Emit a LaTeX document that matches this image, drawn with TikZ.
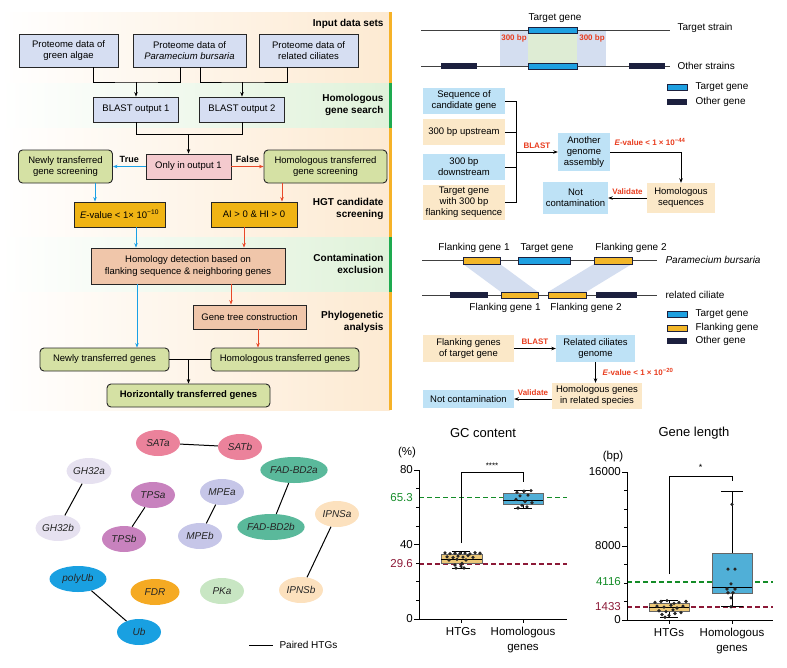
\documentclass[tikz,border=0pt]{standalone}
\usepackage{fontspec}
\setmainfont{Liberation Sans}
\usetikzlibrary{arrows.meta,positioning,shapes.geometric}
\definecolor{protblue}{RGB}{214,222,242}
\definecolor{scrgreen}{RGB}{213,225,164}
\definecolor{onlypink}{RGB}{244,202,206}
\definecolor{cutorange}{RGB}{240,180,20}
\definecolor{salmon}{RGB}{240,198,170}
\definecolor{arrblue}{RGB}{25,160,230}
\definecolor{arrred}{RGB}{232,72,40}
\definecolor{bandpeach}{RGB}{253,234,210}
\definecolor{bandgreen}{RGB}{224,242,218}
\definecolor{barorange}{RGB}{246,178,40}
\definecolor{bargreen}{RGB}{30,170,80}
\definecolor{skyfill}{RGB}{190,226,246}
\definecolor{creamfill}{RGB}{251,232,200}
\definecolor{genedark}{RGB}{28,32,62}
\definecolor{geneblue}{RGB}{30,160,225}
\definecolor{geneyellow}{RGB}{242,182,40}
\definecolor{shadeblue}{RGB}{212,222,240}
\definecolor{shadegreen}{RGB}{222,236,212}
\definecolor{labred}{RGB}{232,60,30}
\definecolor{lineGreen}{RGB}{20,140,40}
\definecolor{lineRed}{RGB}{140,25,55}
\definecolor{htgfill}{RGB}{236,200,120}
\definecolor{homfill}{RGB}{80,175,215}
\definecolor{satcol}{RGB}{235,130,155}
\definecolor{ghcol}{RGB}{230,225,240}
\definecolor{tpscol}{RGB}{200,130,190}
\definecolor{mpecol}{RGB}{198,198,232}
\definecolor{fadcol}{RGB}{90,185,155}
\definecolor{ipnscol}{RGB}{252,225,190}
\definecolor{ubcol}{RGB}{25,160,225}
\definecolor{fdrcol}{RGB}{245,170,35}
\definecolor{pkacol}{RGB}{200,230,195}

\begin{document}
\begin{tikzpicture}[x=1pt,y=-1pt,
  fbase/.style={draw=black!85,line width=0.9pt,align=center,inner sep=1pt,
                font=\fontsize{9.5}{11.5}\selectfont},
  prot/.style={fbase,fill=protblue},
  scr/.style={fbase,fill=scrgreen,rounded corners=4pt},
  cutbox/.style={fbase,fill=cutorange},
  exc/.style={fbase,fill=salmon},
  stage/.style={font=\bfseries\fontsize{10}{12.5}\selectfont,align=right,anchor=east},
  arr/.style={-{Stealth[length=4.5pt,width=3.5pt]},line width=0.7pt},
  carr/.style={arr,line width=1pt},
  tcap/.style={font=\bfseries\fontsize{8}{9}\selectfont,text=labred},
  pane/.style={align=center,inner sep=1pt,font=\fontsize{9.5}{11}\selectfont},
  sky/.style={pane,fill=skyfill},
  cream/.style={pane,fill=creamfill},
  gname/.style={font=\fontsize{10}{12}\selectfont},
  pair/.style={ellipse,minimum width=44pt,minimum height=26pt,inner sep=0pt,
               text=black!85,font=\itshape\fontsize{10}{11}\selectfont},
  axlab/.style={font=\fontsize{11.5}{14.5}\selectfont,align=center},
  ticklab/.style={font=\fontsize{11.5}{13}\selectfont,inner sep=1pt},
  refline/.style={line width=1.5pt,dash pattern=on 5pt off 3pt},
  dot/.style={fill=black!85},
  ]
\useasboundingbox (0,0) rectangle (787,667);
\shade[left color=white,right color=bandpeach] (0,12) rectangle (390,83);
\shade[left color=white,right color=bandgreen] (0,83) rectangle (390,128);
\shade[left color=white,right color=bandpeach] (0,128) rectangle (390,237);
\shade[left color=white,right color=bandgreen] (0,237) rectangle (390,292);
\shade[left color=white,right color=bandpeach] (0,292) rectangle (390,410);
\fill[barorange] (389,12) rectangle (391.5,410);
\fill[bargreen] (389,83) rectangle (391.5,128);
\fill[bargreen] (389,237) rectangle (391.5,292);

\node[stage] (st1) at (387,23.5) {Input data sets};
\node[stage] (st2) at (387,105) {Homologous\\gene search};
\node[stage] (st3) at (387,209) {HGT candidate\\screening};
\node[stage] (st4) at (387,264) {Contamination\\exclusion};
\node[stage] (st5) at (387,322) {Phylogenetic\\analysis};

\node[prot,minimum width=99pt,minimum height=33pt] (ga) at (68.5,50.5) {Proteome data of\\green algae};
\node[prot,minimum width=113pt,minimum height=33pt] (pb) at (189.5,50.5) {Proteome data of\\\textit{Paramecium bursaria}};
\node[prot,minimum width=99pt,minimum height=33pt] (rc) at (308.5,50.5) {Proteome data of\\related ciliates};
\node[prot,minimum width=85pt,minimum height=25pt] (bo1) at (136,109.5) {BLAST output 1};
\node[prot,minimum width=85pt,minimum height=25pt] (bo2) at (242,109.5) {BLAST output 2};
\coordinate (m1) at (136,82);
\coordinate (m2) at (242,82);
\draw[line width=0.8pt] ([xshift=24.5pt]ga.south) |- (m1) -| ([xshift=-9.5pt]pb.south);
\draw[arr] (m1) -- (bo1.north);
\draw[line width=0.8pt] ([xshift=10.5pt]pb.south) |- (m2) -| ([xshift=-21.5pt]rc.south);
\draw[arr] (m2) -- (bo2.north);

\node[fbase,fill=onlypink,minimum width=85pt,minimum height=25pt] (oo) at (188.5,166.5) {Only in output 1};
\coordinate (m3) at (188.5,134.5);
\draw[line width=0.8pt] (bo1.south) |- (m3) -| (bo2.south);
\draw[arr] (m3) -- (oo.north);
\node[scr,minimum width=94pt,minimum height=33pt] (ns) at (65.5,166.5) {Newly transferred\\gene screening};
\node[scr,minimum width=123pt,minimum height=33pt] (hs) at (325.5,166.5) {Homologous transferred\\gene screening};
\draw[carr,arrblue] (oo.west) -- node[above,text=black,font=\bfseries\fontsize{9}{10}\selectfont] (tru) {True} (ns.east);
\draw[carr,arrred] (oo.east) -- node[above,text=black,font=\bfseries\fontsize{9}{10}\selectfont] (fal) {False} (hs.west);

\node[cutbox,minimum width=91pt,minimum height=25pt] (ev) at (119.5,214.5) {\textit{E}-value < 1× 10\textsuperscript{−10}};
\node[cutbox,minimum width=86pt,minimum height=25pt] (ai) at (254,214.5) {AI > 0 \& HI > 0};
\draw[carr,arrblue] ([xshift=29.5pt]ns.south) -- ([xshift=29.5pt]ns.south |- ev.north);
\draw[carr,arrred] ([xshift=-43.5pt]hs.south) -- ([xshift=-43.5pt]hs.south |- ai.north);

\node[exc,minimum width=194pt,minimum height=36pt] (hd) at (188,266) {Homology detection based on\\flanking sequence \& neighboring genes};
\draw[carr,arrblue] ([xshift=16.5pt]ev.south) -- ([xshift=16.5pt]ev.south |- hd.north);
\draw[carr,arrred] ([xshift=-10pt]ai.south) -- ([xshift=-10pt]ai.south |- hd.north);
\node[exc,minimum width=113pt,minimum height=24pt] (gt) at (249.5,317) {Gene tree construction};
\draw[carr,arrred] ([xshift=43pt]hd.south) -- ([xshift=43pt]hd.south |- gt.north);
\node[scr,minimum width=129pt,minimum height=23pt] (nt) at (104.5,359.5) {Newly transferred genes};
\node[scr,minimum width=148pt,minimum height=23pt] (ht) at (285,359.5) {Homologous transferred genes};
\draw[carr,arrblue] ([xshift=-51pt]hd.south) -- ([xshift=-51pt]hd.south |- nt.north);
\draw[carr,arrred] ([xshift=8.5pt]gt.south) -- ([xshift=8.5pt]gt.south |- ht.north);
\node[scr,minimum width=163pt,minimum height=23pt,font=\bfseries\fontsize{9.5}{11.5}\selectfont] (hz) at (188.5,395.5) {Horizontally transferred genes};
\draw[line width=0.8pt] (nt.east) -- (ht.west);
\draw[arr] (nt.east -| hz.north) -- (hz.north);

\fill[shadeblue] (500,30) rectangle (606,66);
\fill[shadegreen] (528,30) rectangle (577,66);
\draw[line width=0.8pt,black!75] (421,30) -- (670,30);
\draw[line width=0.8pt,black!75] (421,66) -- (670,66);
\filldraw[fill=geneblue,draw=genedark,line width=0.5pt] (528,27) rectangle (577,33);
\filldraw[fill=geneblue,draw=genedark,line width=0.5pt] (528,63) rectangle (577,69);
\fill[genedark] (441,63) rectangle (477,69);
\fill[genedark] (629,63) rectangle (665,69);
\node[gname] (tgl) at (555,18) {Target gene};
\node[tcap] (bp1) at (514,38) {300 bp};
\node[tcap] (bp2) at (592,38) {300 bp};
\node[gname,anchor=west] (ts) at (674,28) {Target strain};
\node[gname,anchor=west] (os) at (674,66) {Other strains};
\filldraw[fill=geneblue,draw=genedark,line width=0.5pt] (667,84) rectangle (687,90);
\fill[genedark] (667,99) rectangle (687,105);
\node[gname,anchor=west] (lg1) at (692,87) {Target gene};
\node[gname,anchor=west] (lg2) at (692,102) {Other gene};

\node[sky,minimum width=82pt,minimum height=26pt] (sq) at (464,101) {Sequence of\\candidate gene};
\node[cream,minimum width=82pt,minimum height=26pt] (up) at (464,132) {300 bp upstream};
\node[sky,minimum width=82pt,minimum height=26pt] (dn) at (464,167) {300 bp\\downstream};
\node[cream,minimum width=82pt,minimum height=35pt] (tf) at (464,202.5) {Target gene\\with 300 bp\\flanking sequence};
\coordinate (bj) at (516,152);
\foreach \b in {sq,up,dn,tf} \draw[line width=0.8pt] (\b.east) -- (\b.east -| bj);
\draw[line width=0.8pt] (sq.east -| bj) -- (tf.east -| bj);
\node[sky,minimum width=52pt,minimum height=38pt] (ag) at (584,152) {Another\\genome\\assembly};
\draw[arr] (bj) -- node[above,tcap] (bl1) {BLAST} (ag.west);
\node[cream,minimum width=68pt,minimum height=30pt] (hsq) at (681,198) {Homologous\\sequences};
\draw[arr] (ag.east) -| (hsq.north);
\node[tcap,anchor=west] (ev1) at (611,142) {\textit{E}-value < 1 × 10\textsuperscript{−44}};
\node[sky,minimum width=65pt,minimum height=32pt] (nc1) at (575.5,198) {Not\\contamination};
\draw[arr] (hsq.west) -- node[above,tcap] (va1) {Validate} (nc1.east);

\fill[shadeblue] (463,264) -- (500,264) -- (538,292) -- (501,292) -- cycle;
\fill[shadeblue] (594,264) -- (632,264) -- (586,292) -- (548,292) -- cycle;
\draw[line width=0.8pt,black!75] (422,260.5) -- (657,260.5);
\draw[line width=0.8pt,black!75] (422,295) -- (657,295);
\filldraw[fill=geneyellow,draw=genedark,line width=0.5pt] (463,257) rectangle (500,264);
\filldraw[fill=geneblue,draw=genedark,line width=0.5pt] (518,257) rectangle (570,264);
\filldraw[fill=geneyellow,draw=genedark,line width=0.5pt] (594,257) rectangle (632,264);
\fill[genedark] (450,292) rectangle (488,298);
\filldraw[fill=geneyellow,draw=genedark,line width=0.5pt] (501,292) rectangle (538,298);
\filldraw[fill=geneyellow,draw=genedark,line width=0.5pt] (548,292) rectangle (586,298);
\fill[genedark] (596,292) rectangle (637,298);
\node[gname] (fa1) at (474,248) {Flanking gene 1};
\node[gname] (tga) at (547,248) {Target gene};
\node[gname] (fa2) at (631,248) {Flanking gene 2};
\node[gname,anchor=west,font=\itshape\fontsize{10}{12}\selectfont] (pbl) at (662,260) {Paramecium bursaria};
\node[gname,anchor=west] (rcl) at (662,295) {related ciliate};
\node[gname] (fb1) at (505,308) {Flanking gene 1};
\node[gname] (fb2) at (586,308) {Flanking gene 2};
\filldraw[fill=geneblue,draw=genedark,line width=0.5pt] (667,311) rectangle (687,317);
\filldraw[fill=geneyellow,draw=genedark,line width=0.5pt] (667,325) rectangle (687,331);
\fill[genedark] (667,338) rectangle (687,344);
\node[gname,anchor=west] (lg3) at (692,314) {Target gene};
\node[gname,anchor=west] (lg4) at (692,328) {Flanking gene};
\node[gname,anchor=west] (lg5) at (692,341) {Other gene};

\node[cream,minimum width=91pt,minimum height=27pt] (fg) at (468.5,348.5) {Flanking genes\\of target gene};
\node[sky,minimum width=79pt,minimum height=27pt] (rg) at (595.5,348.5) {Related ciliates\\genome};
\draw[arr] (fg.east) -- node[above,tcap] (bl2) {BLAST} (rg.west);
\node[cream,minimum width=90pt,minimum height=26pt] (hg) at (597,396) {Homologous genes\\in related species};
\draw[arr] (rg.south) -- (rg.south |- hg.north);
\node[tcap,anchor=west] (ev2) at (599,372) {\textit{E}-value < 1 × 10\textsuperscript{−20}};
\node[sky,minimum width=91pt,minimum height=18pt] (nc2) at (468.5,399) {Not contamination};
\draw[arr] (hg.west |- nc2) -- node[above,tcap] (va2) {Validate} (nc2.east);

\node[pair,fill=satcol] (sa) at (158,443) {SATa};
\node[pair,fill=satcol] (sb) at (240,447) {SATb};
\node[pair,fill=ghcol] (gha) at (89,471) {GH32a};
\node[pair,fill=ghcol] (ghb) at (58,528) {GH32b};
\node[pair,fill=tpscol] (ta) at (153,495) {TPSa};
\node[pair,fill=tpscol] (tb) at (124,539) {TPSb};
\node[pair,fill=mpecol] (ma) at (222,492) {MPEa};
\node[pair,fill=mpecol] (mb) at (200,536) {MPEb};
\node[pair,fill=fadcol,minimum width=52pt] (fa) at (294,470) {FAD-BD2a};
\node[pair,fill=fadcol,minimum width=60pt] (fb) at (271,527) {FAD-BD2b};
\node[pair,fill=ipnscol] (ia) at (337,514) {IPNSa};
\node[pair,fill=ipnscol] (ib) at (301,590) {IPNSb};
\node[pair,fill=ubcol,minimum width=57pt] (pu) at (78,579) {polyUb};
\node[pair,fill=ubcol] (ub) at (139,632) {Ub};
\node[pair,fill=fdrcol,minimum width=49pt] (fd) at (155,592) {FDR};
\node[pair,fill=pkacol] (pk) at (222,591) {PKa};
\foreach \p/\q in {sa/sb,gha/ghb,ta/tb,ma/mb,fa/fb,ia/ib,pu/ub}
  \draw[line width=1pt] (\p) -- (\q);
\coordinate (pl) at (249,645);
\node[anchor=west,font=\fontsize{10}{12}\selectfont] (plt) at (276,645) {Paired HTGs};
\draw[line width=1pt] (pl) -- ([xshift=-3pt]plt.west);

\node[font=\fontsize{13}{15}\selectfont] (gct) at (483,433) {GC content};
\node[ticklab] (gcu) at (407,453) {(\%)};
\begin{scope}[shift={(419,619)},y=1.8625pt]
  \draw[refline,lineGreen] (0,65.3) -- (148,65.3);
  \draw[refline,lineRed] (0,29.6) -- (148,29.6);
  \draw[line width=0.7pt] (42,27.4) -- (42,36.5) (33,27.4) -- (51,27.4) (33,36.5) -- (51,36.5);
  \filldraw[fill=htgfill,draw=black!60,line width=0.6pt] (22,30.1) rectangle (63,34.9);
  \draw[line width=0.7pt] (22,32.2) -- (63,32.2);
  \draw[line width=0.7pt] (104,59.6) -- (104,69.3) (95,59.6) -- (113,59.6) (95,69.3) -- (113,69.3);
  \filldraw[fill=homfill,draw=black!60,line width=0.6pt] (84,61.7) rectangle (124,67.6);
  \draw[line width=0.7pt] (84,63.5) -- (124,63.5);
  \foreach \px/\py in {26/35.5,31/35.1,36/35.3,41/35.2,46/35.4,51/35.0,56/35.6,61/35.3,
      28/33.4,34/33.0,39/33.8,44/33.2,49/34.0,54/33.1,30/31.6,38/32.0,47/31.7,
      36/29.0,42/28.4,45/27.4,37/27.3,43/29.8,
      98/68.0,105/68.6,112/68.9,101/66.1,109/66.5,97/64.2,106/63.1,113/62.4,
      103/61.0,99/59.6,108/60.2}
    \fill[dot] (\px,\py) circle (1.8pt);
  \draw[line width=0.8pt] (42,40.8) -- (42,78.9) -- (104,78.9) -- (104,73.6);
  \node[font=\fontsize{8}{9}\selectfont] (gcs) at (73,82.5) {****};
  \draw[line width=0.9pt] (0,80) -- (0,0) -- (148,0);
  \foreach \v in {10,20,30,50,60,70} \draw[line width=0.7pt] (0,\v) -- ++(-3pt,0);
  \foreach \v in {0,40,80} {
    \draw[line width=0.7pt] (0,\v) -- ++(-5pt,0);
    \node[ticklab,left=5pt] (gy\v) at (0,\v) {\v};
  }
  \node[ticklab,left=5pt,text=lineGreen] (gyg) at (0,65.3) {65.3};
  \node[ticklab,left=5pt,text=lineRed] (gyr) at (0,29.6) {29.6};
  \draw[line width=0.7pt] (42,0) -- ++(0,-4pt) (104,0) -- ++(0,-4pt);
  \node[axlab,below=5pt] (gx1) at (42,0) {HTGs};
  \node[axlab,below=5pt] (gx2) at (104,0) {Homologous\\genes};
\end{scope}

\node[font=\fontsize{13}{15}\selectfont] (glt) at (694,433) {Gene length};
\node[ticklab] (glu) at (613,457) {(bp)};
\begin{scope}[shift={(627,620)},y=9.25pt]
  \draw[refline,lineGreen] (0,4.116) -- (146,4.116);
  \draw[refline,lineRed] (0,1.433) -- (146,1.433);
  \draw[line width=0.7pt] (42,0.32) -- (42,2.16) (33,0.32) -- (51,0.32) (33,2.16) -- (51,2.16);
  \filldraw[fill=htgfill,draw=black!60,line width=0.6pt] (22,0.9) rectangle (62,1.84);
  \draw[line width=0.7pt] (22,1.35) -- (62,1.35);
  \draw[line width=0.7pt] (105,1.43) -- (105,13.95) (94,1.43) -- (116,1.43) (94,13.95) -- (116,13.95);
  \filldraw[fill=homfill,draw=black!60,line width=0.6pt] (85,2.92) rectangle (125,7.24);
  \draw[line width=0.7pt] (85,3.57) -- (125,3.57);
  \foreach \px/\py in {28/1.9,34/2.0,40/2.1,47/1.8,52/1.9,59/2.0,30/1.5,37/1.4,44/1.6,
      50/1.3,56/1.5,32/1.0,39/0.9,46/1.1,54/0.8,35/0.6,42/0.5,38/0.3,48/0.7,
      105/12.5,101/5.5,108/5.5,104/3.9,100/3.35,108/3.35,101/2.95,106/2.95,104/2.4,104/1.43}
    \fill[dot] (\px,\py) circle (1.8pt);
  \draw[line width=0.8pt] (42,4.97) -- (42,15.55) -- (105,15.55) -- (105,15.0);
  \node[font=\fontsize{9}{10}\selectfont] (gls) at (73.5,16.5) {*};
  \draw[line width=0.9pt] (0,16) -- (0,0) -- (146,0);
  \foreach \v in {2,4,6,10,12,14} \draw[line width=0.7pt] (0,\v) -- ++(-3pt,0);
  \foreach \v/\t in {0/0,8/8000,16/16000} {
    \draw[line width=0.7pt] (0,\v) -- ++(-5pt,0);
    \node[ticklab,left=5pt] (ly\v) at (0,\v) {\t};
  }
  \node[ticklab,left=5pt,text=lineGreen] (lyg) at (0,4.116) {4116};
  \node[ticklab,left=5pt,text=lineRed] (lyr) at (0,1.433) {1433};
  \draw[line width=0.7pt] (42,0) -- ++(0,-4pt) (105,0) -- ++(0,-4pt);
  \node[axlab,below=5pt] (lx1) at (42,0) {HTGs};
  \node[axlab,below=5pt] (lx2) at (105,0) {Homologous\\genes};
\end{scope}
\end{tikzpicture}
\end{document}
